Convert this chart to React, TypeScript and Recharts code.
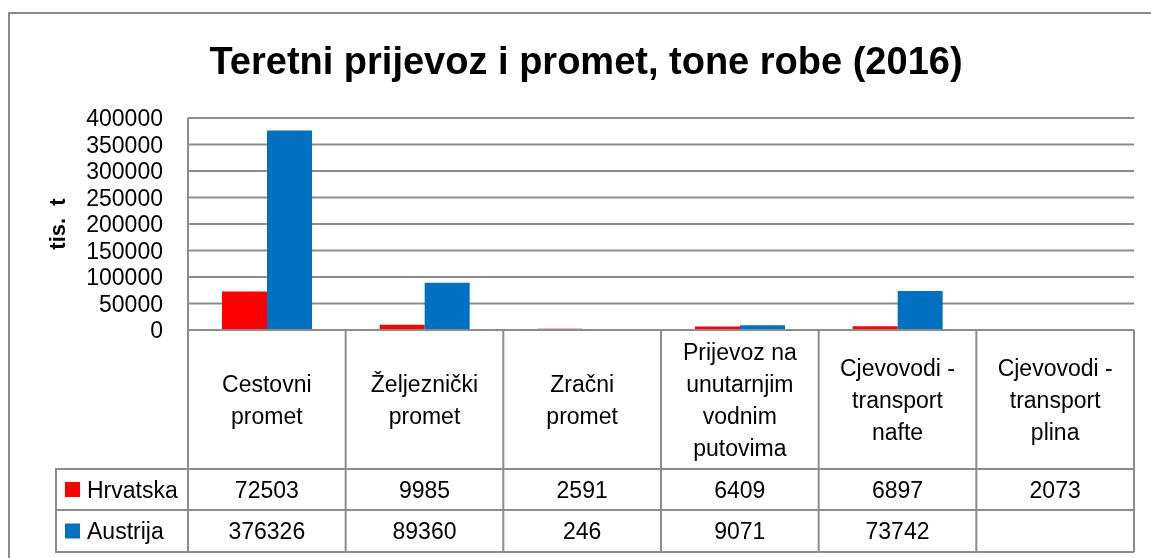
import { BarChart, Bar, XAxis, YAxis, CartesianGrid } from "recharts";

const categories = [
  "Cestovni\npromet",
  "Željeznički\npromet",
  "Zračni\npromet",
  "Prijevoz na\nunutarnjim\nvodnim\nputovima",
  "Cjevovodi -\ntransport\nnafte",
  "Cjevovodi -\ntransport\nplina",
];
const hrvatska = [72503, 9985, 2591, 6409, 6897, 2073];
const austrija: (number | null)[] = [376326, 89360, 246, 9071, 73742, null];
const yTicks = [0, 50000, 100000, 150000, 200000, 250000, 300000, 350000, 400000];

const seriesNames = ["Hrvatska", "Austrija"];
const seriesColors = ["#FF0000", "#0070C0"];

const data = categories.map((c, i) => ({
  cat: c,
  hrvatska: hrvatska[i],
  austrija: austrija[i],
}));

const W = 1143;
const H = 550;
const M = { top: 110, right: 17, bottom: 6, left: 0 };
const Y_W = 180;
const TABLE_H = 222;
const COL_W = (W - M.left - M.right - Y_W) / categories.length;
const GRID = "#8c8c8c";
const FONT = "'Liberation Sans', Arial, sans-serif";
const FS = 23;

const TableTick = (props: any) => {
  const { x, y, payload } = props;
  const i = categories.indexOf(payload.value);
  const x0 = x - COL_W / 2;
  const x1 = x + COL_W / 2;
  const lines = String(payload.value).split("\n");
  const lh = 32;
  const labelMid = 70;
  const rows = [139, 180, 222];
  const values = [hrvatska[i], austrija[i]];
  return (
    <g fontFamily={FONT} fontSize={FS} fill="#000">
      <line x1={x0} y1={y} x2={x0} y2={y + TABLE_H} stroke={GRID} strokeWidth={2} />
      {i === categories.length - 1 && (
        <line x1={x1} y1={y} x2={x1} y2={y + TABLE_H} stroke={GRID} strokeWidth={2} />
      )}
      {rows.map((r) => (
        <line key={r} x1={x0} y1={y + r} x2={x1} y2={y + r} stroke={GRID} strokeWidth={2} />
      ))}
      {lines.map((l, k) => (
        <text
          key={k}
          x={x}
          y={y + labelMid + (k - (lines.length - 1) / 2) * lh}
          textAnchor="middle"
          dominantBaseline="central"
        >
          {l}
        </text>
      ))}
      {values.map((v, k) => (
        <text
          key={k}
          x={x}
          y={y + (rows[k] + rows[k + 1]) / 2}
          textAnchor="middle"
          dominantBaseline="central"
        >
          {v == null ? "" : v}
        </text>
      ))}
      {i === 0 && (
        <g>
          {rows.map((r) => (
            <line key={r} x1={47} y1={y + r} x2={x0} y2={y + r} stroke={GRID} strokeWidth={2} />
          ))}
          <line x1={48} y1={y + rows[0]} x2={48} y2={y + rows[2]} stroke={GRID} strokeWidth={2} />
          {seriesNames.map((s, k) => {
            const cy = y + (rows[k] + rows[k + 1]) / 2;
            return (
              <g key={s}>
                <rect x={57} y={cy - 7.5} width={15} height={15} fill={seriesColors[k]} />
                <text x={79} y={cy} dominantBaseline="central" textAnchor="start">
                  {s}
                </text>
              </g>
            );
          })}
        </g>
      )}
    </g>
  );
};

export default function App() {
  // fixed so the page never grows scrollbars
  return (
    <div
      style={{
        position: "fixed",
        left: 8,
        top: 8,
        width: W,
        height: H,
        overflow: "hidden",
        fontFamily: FONT,
      }}
    >
      <div
        style={{
          position: "absolute",
          left: 0,
          top: 4,
          width: W + 40,
          height: H + 40,
          border: "2px solid #888",
          boxSizing: "border-box",
        }}
      />
      <div
        style={{
          position: "absolute",
          left: 0,
          width: 1156,
          top: 30,
          textAlign: "center",
          fontSize: 38,
          fontWeight: "bold",
          lineHeight: "46px",
        }}
      >
        Teretni prijevoz i promet, tone robe (2016)
      </div>
      <div
        style={{
          position: "absolute",
          left: 50,
          top: 216,
          transform: "translate(-50%, -50%) rotate(-90deg)",
          fontSize: 22,
          fontWeight: "bold",
          whiteSpace: "pre",
        }}
      >
        {"tis.  t"}
      </div>
      <BarChart
        width={W}
        height={H}
        data={data}
        margin={M}
        barGap={0}
        style={{ position: "absolute", left: 0, top: 0 }}
      >
        <CartesianGrid vertical={false} stroke={GRID} strokeWidth={2} />
        <XAxis
          dataKey="cat"
          height={TABLE_H}
          interval={0}
          tickSize={0}
          tickMargin={0}
          tick={<TableTick />}
          axisLine={{ stroke: GRID, strokeWidth: 2 }}
          tickLine={false}
        />
        <YAxis
          width={Y_W}
          domain={[0, 400000]}
          ticks={yTicks}
          interval={0}
          tickSize={0}
          tickMargin={25}
          axisLine={{ stroke: GRID, strokeWidth: 2 }}
          tickLine={false}
          tick={{ fill: "#000", fontSize: FS, fontFamily: FONT }}
        />
        <Bar dataKey="hrvatska" fill={seriesColors[0]} barSize={45} isAnimationActive={false} />
        <Bar dataKey="austrija" fill={seriesColors[1]} barSize={45} isAnimationActive={false} />
      </BarChart>
    </div>
  );
}
